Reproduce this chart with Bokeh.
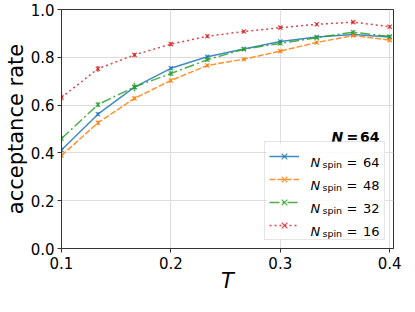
import numpy as np
from bokeh.plotting import figure
from bokeh.models import (Range1d, FixedTicker, PrintfTickFormatter, Legend, LegendItem, Label,
                          BoxAnnotation)
from bokeh.core.properties import value
from bokeh.embed import file_html
from bokeh.resources import INLINE

# ---- data ----
T = [0.1, 0.1333, 0.1667, 0.2, 0.2333, 0.2667, 0.3, 0.3333, 0.3667, 0.4]
acc_64 = [0.412, 0.562, 0.675, 0.754, 0.802, 0.835, 0.866, 0.885, 0.895, 0.885]
err_64 = [0.010, 0.008, 0.008, 0.008, 0.007, 0.006, 0.006, 0.006, 0.006, 0.006]
acc_48 = [0.389, 0.526, 0.628, 0.703, 0.766, 0.792, 0.826, 0.862, 0.891, 0.872]
err_48 = [0.010, 0.010, 0.008, 0.008, 0.007, 0.006, 0.006, 0.006, 0.006, 0.006]
acc_32 = [0.460, 0.602, 0.676, 0.732, 0.790, 0.834, 0.858, 0.882, 0.905, 0.887]
err_32 = [0.012, 0.010, 0.018, 0.010, 0.008, 0.007, 0.006, 0.006, 0.008, 0.006]
acc_16 = [0.632, 0.752, 0.810, 0.855, 0.888, 0.908, 0.924, 0.938, 0.947, 0.928]
err_16 = [0.018, 0.012, 0.008, 0.008, 0.007, 0.006, 0.006, 0.006, 0.006, 0.006]
n_spin = ["64", "48", "32", "16"]
x_ticks = [0.1, 0.2, 0.3, 0.4]
y_ticks = [0.0, 0.2, 0.4, 0.6, 0.8, 1.0]

colors = ["#1f77b4", "#ff7f0e", "#2ca02c", "#d62728"]
dashes = ["solid", "6 2", "10 3 2 3", "2 3"]

FONT = "DejaVu Sans"
X0, X1 = 0.1, 0.4035
ML, MR, MT, MB = 57, 10, 9, 48
FW = 399 - ML - MR
FH = 296 - MT - MB

p = figure(frame_width=FW, frame_height=FH, x_range=Range1d(X0, X1), y_range=Range1d(0, 1.0),
           output_backend="svg", toolbar_location=None,
           min_border_left=ML, min_border_right=MR, min_border_top=MT, min_border_bottom=MB)
p.background_fill_color = "white"
p.border_fill_color = "white"
p.outline_line_color = "#333333"
p.outline_line_width = 1

for ax in (p.xaxis[0], p.yaxis[0]):
    ax.axis_line_color = "#333333"
    ax.major_tick_line_color = "#333333"
    ax.major_tick_out = 4
    ax.major_tick_in = 0
    ax.minor_tick_line_color = None
    ax.major_label_text_font = FONT
    ax.major_label_text_font_size = "15px"
    ax.major_label_text_color = "black"
    ax.major_label_standoff = 4
    ax.formatter = PrintfTickFormatter(format="%.1f")
    ax.axis_label_text_font = FONT
    ax.axis_label_text_font_size = "21px"
    ax.axis_label_text_color = "black"
p.xaxis.ticker = FixedTicker(ticks=x_ticks)
p.yaxis.ticker = FixedTicker(ticks=y_ticks)
p.yaxis.major_label_standoff = 3
p.xaxis.axis_label = "T"
p.xaxis.axis_label_text_font_style = "italic"
p.xaxis.axis_label_standoff = -3
p.yaxis.axis_label = "acceptance rate"
p.yaxis.axis_label_text_font_style = "normal"
p.yaxis.axis_label_standoff = 0

p.xgrid.ticker = FixedTicker(ticks=x_ticks)
p.ygrid.ticker = FixedTicker(ticks=y_ticks)
p.grid.grid_line_color = "#dddddd"
p.grid.grid_line_width = 1

# helpers: page-pixel layout -> data coordinates (page = 8px body margin + figure)
PX_LEFT = 8 + ML
PX_RIGHT = PX_LEFT + FW
PX_BOTTOM = 8 + MT + FH
def px2x(px):
    return X0 + (px - PX_LEFT) * (X1 - X0) / FW
def px2y(py):
    return (PX_BOTTOM - py) / FH

# legend geometry (pixels)
LG_MARGIN, LG_PAD, LG_SP, LG_ROW = 8, 4, 3, 20
LG_GLYPH_W, LG_STANDOFF, LG_LABEL_W = 30, 10, 71
LG_W = 2 * LG_PAD + LG_GLYPH_W + LG_STANDOFF + LG_LABEL_W
LG_H = 2 * LG_PAD + 4 * LG_ROW + 3 * LG_SP

# white panel behind the legend (hides grid lines, like a legend frame)
p.add_layout(BoxAnnotation(left=px2x(PX_RIGHT - LG_MARGIN - LG_W), right=px2x(PX_RIGHT - LG_MARGIN),
                           bottom=px2y(PX_BOTTOM - LG_MARGIN), top=px2y(PX_BOTTOM - LG_MARGIN - LG_H),
                           fill_color="white", fill_alpha=0.85, line_color=None, level="underlay"))

items = []
series = [(acc_64, err_64), (acc_48, err_48), (acc_32, err_32), (acc_16, err_16)]
for (acc, err), c, d in zip(series, colors, dashes):
    a = np.array(acc)
    e = np.array(err)
    ln = p.line(T, acc, line_color=c, line_width=1.5, line_dash=d, line_alpha=0.85)
    p.segment(x0=T, y0=a - e, x1=T, y1=a + e, line_color=c, line_width=1.5, line_alpha=0.85)
    sc = p.scatter(T, acc, marker="x", size=6, line_color=c, line_width=1.2, line_alpha=0.85)
    items.append(LegendItem(label=value(""), renderers=[ln, sc]))

legend = Legend(items=items, location="bottom_right", margin=LG_MARGIN, padding=LG_PAD,
                spacing=LG_SP, label_height=LG_ROW, glyph_height=LG_ROW, glyph_width=LG_GLYPH_W,
                label_standoff=LG_STANDOFF, label_width=LG_LABEL_W, label_text_font_size="13px",
                border_line_color="#cccccc", border_line_width=1,
                background_fill_alpha=0)
p.add_layout(legend)

def txt(px, py, s, size, style="normal", align="left"):
    p.add_layout(Label(x=px2x(px), y=px2y(py), text=s, text_font=FONT, text_color="black",
                       text_font_style=style, text_font_size=size, level="overlay",
                       text_baseline="alphabetic", text_align=align))

# legend labels: N_spin = ...  (rows measured upward from the frame bottom)
row_offsets = [91, 68, 45, 22]
for n, off in zip(n_spin, row_offsets):
    yc = PX_BOTTOM - off
    txt(PX_RIGHT - 83, yc + 5, "N", "13px", "italic")
    txt(PX_RIGHT - 71, yc + 7, "spin", "9.5px")
    txt(PX_RIGHT - 47, yc + 5, "=", "13px")
    txt(PX_RIGHT - 14, yc + 5, n, "13px", align="right")

# "N = 64" annotation
txt(PX_RIGHT - 62, PX_BOTTOM - 112, "N", "14px", "bold italic")
txt(PX_RIGHT - 47, PX_BOTTOM - 112, "=", "14px", "bold")
txt(PX_RIGHT - 14, PX_BOTTOM - 112, "64", "14px", "bold", align="right")

open("out.html", "w").write(file_html(p, INLINE))
